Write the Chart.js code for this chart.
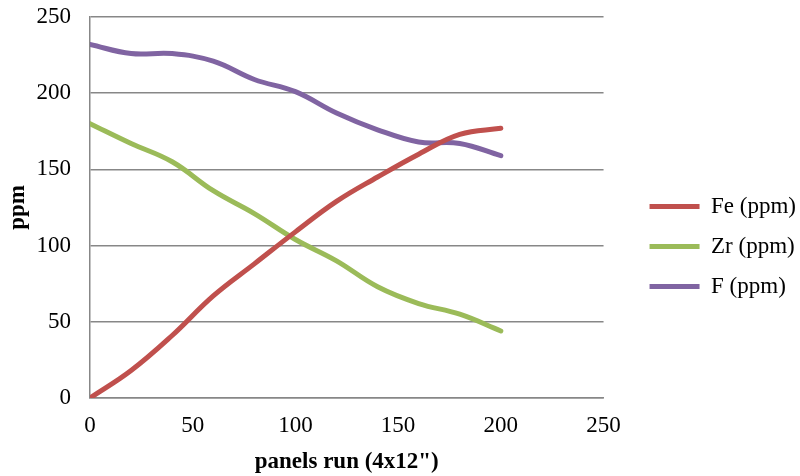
<!DOCTYPE html>
<html>
<head>
<meta charset="utf-8">
<script src="https://cdn.jsdelivr.net/npm/chart.js@4.4.0/dist/chart.umd.min.js"></script>
<style>
  html, body { margin: 0; padding: 0; background: #fff; }
  #wrap { width: 800px; height: 476px; }
</style>
</head>
<body>
<div id="wrap"><canvas id="myChart"></canvas></div>
<script>
// panels run (x) and readings in ppm
var panels = [0, 20, 40, 60, 80, 100, 120, 140, 160, 180, 200];
var fe = [0, 18, 41, 67, 88, 109, 129, 145, 160, 173, 177];
var zr = [180, 167, 155, 136, 121, 104, 90, 73, 62, 55, 44];
var fl = [232, 226, 226, 221, 209, 201, 187, 176, 168, 167, 159];
var tickVals = [0, 50, 100, 150, 200, 250];

function pts(ys) {
  return panels.map(function (x, i) { return { x: x, y: ys[i] }; });
}

var serif = "'Liberation Serif', 'Times New Roman', serif";
Chart.defaults.font.family = serif;
Chart.defaults.color = '#000';

var chartCanvas = document.getElementById('myChart');

function series(label, ys, color) {
  return {
    label: label,
    data: pts(ys),
    borderColor: color,
    backgroundColor: color,
    borderWidth: 5,
    borderCapStyle: 'round',
    tension: 0.4,
    fill: false,
    pointRadius: 0
  };
}

var data = {
  datasets: [
    series('Fe (ppm)', fe, '#C0504D'),
    series('Zr (ppm)', zr, '#9BBB59'),
    series('F (ppm)', fl, '#8064A2')
  ]
};

var options = {
  responsive: true,
  maintainAspectRatio: false,
  animation: false,
  layout: { padding: { top: 17, right: -6, left: 0, bottom: 0 } },
  plugins: {
    legend: {
      position: 'right',
      maxWidth: 220,
      labels: {
        usePointStyle: true,
        pointStyle: 'line',
        pointStyleWidth: 50,
        padding: 17,
        font: { size: 23 }
      }
    },
    tooltip: { enabled: false }
  },
  scales: {
    x: {
      type: 'linear',
      min: 0,
      max: 250,
      afterBuildTicks: function (s) { s.ticks = tickVals.map(function (v) { return { value: v }; }); },
      afterFit: function (s) { s.height = 78; },
      grid: { display: false, drawTicks: true, tickLength: 14, tickColor: 'rgba(0,0,0,0)' },
      border: { color: '#878787', width: 1.5 },
      ticks: { font: { size: 23 }, padding: 0, maxRotation: 0 },
      title: { display: true, text: 'panels run (4x12")', font: { size: 23, weight: 'bold' }, padding: { top: 0, bottom: 0 } }
    },
    y: {
      min: 0,
      max: 250,
      afterBuildTicks: function (s) { s.ticks = tickVals.map(function (v) { return { value: v }; }); },
      afterFit: function (s) { s.width = 90; },
      grid: { color: '#878787', lineWidth: 1.5, drawTicks: true, tickLength: 19, tickColor: 'rgba(0,0,0,0)' },
      border: { color: '#878787', width: 1.5 },
      ticks: { font: { size: 23 }, padding: 0 },
      title: { display: true, text: 'ppm', font: { size: 23, weight: 'bold' } }
    },
    // empty box that only keeps the gap between the plot and the legend
    gap: {
      type: 'linear',
      position: 'right',
      display: true,
      afterFit: function (s) { s.width = 29; },
      grid: { display: false, drawTicks: false },
      border: { display: false },
      ticks: { display: false }
    }
  }
};

var myChart = new Chart(chartCanvas, {
  type: 'line',
  data: data,
  options: options
});
</script>
</body>
</html>
